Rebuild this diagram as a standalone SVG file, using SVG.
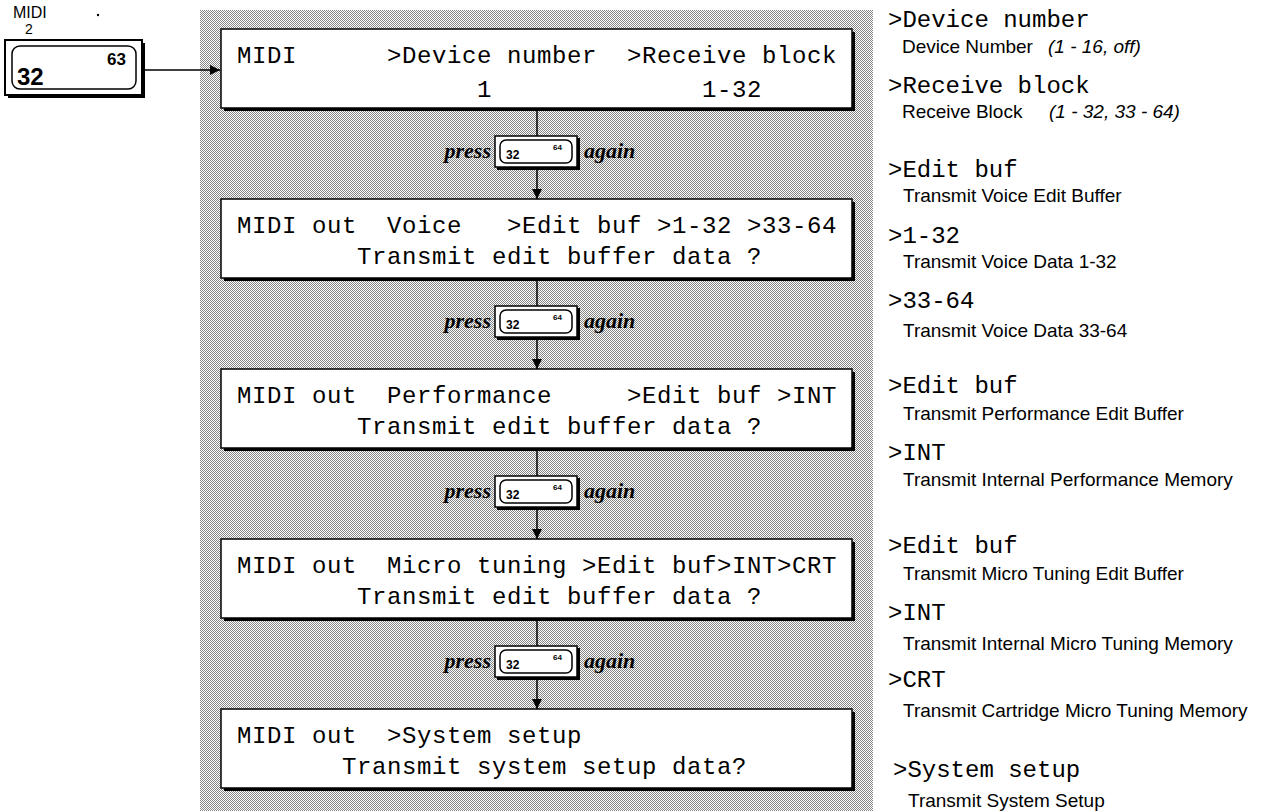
<svg xmlns="http://www.w3.org/2000/svg" width="1271" height="811" viewBox="0 0 1271 811">
<defs>
<pattern id="dots" patternUnits="userSpaceOnUse" width="2" height="2">
<rect width="2" height="2" fill="#ffffff"/>
<rect width="1" height="1" fill="#858585"/>
<rect x="1" y="1" width="1" height="1" fill="#858585"/>
</pattern>
<marker id="arr" markerUnits="userSpaceOnUse" markerWidth="10" markerHeight="12" refX="10" refY="5" orient="auto">
<path d="M0,0 L10,5 L0,10 Z" fill="#000"/>
</marker>
<g id="pbtn">
<rect x="2" y="2" width="83" height="32" fill="#000"/>
<rect x="0" y="0" width="82" height="31" fill="#fff" stroke="#000" stroke-width="1.5"/>
<rect x="5" y="4" width="72" height="23" rx="6" fill="#fff" stroke="#000" stroke-width="1.5"/>
<text x="11" y="23" class="b32">32</text>
<text x="58" y="14" class="b64">64</text>
</g>
</defs>
<style>
.lcd{font-family:"Liberation Mono",monospace;font-size:24px;letter-spacing:0.6px;fill:#000;white-space:pre}
.lcdr{font-family:"Liberation Mono",monospace;font-size:24px;fill:#000;white-space:pre}
.desc{font-family:"Liberation Sans",Arial,sans-serif;font-size:19px;fill:#000}
.ital{font-family:"Liberation Sans",Arial,sans-serif;font-size:19px;font-style:italic;fill:#000}
.press{font-family:"Liberation Serif","Times New Roman",serif;font-size:22px;font-style:italic;font-weight:bold;fill:#000}
.b32{font-family:"Liberation Sans",Arial,sans-serif;font-size:12px;font-weight:bold;fill:#000}
.b64{font-family:"Liberation Sans",Arial,sans-serif;font-size:8px;font-weight:bold;fill:#000}
.box{fill:#fff;stroke:#000;stroke-width:1.5}
.conn{stroke:#000;stroke-width:1.5;fill:none}
</style>

<rect x="200" y="10" width="673" height="801" fill="url(#dots)"/>

<g id="midi-button">
<text x="13" y="18" font-family="Liberation Sans, Arial, sans-serif" font-size="16">MIDI</text>
<text x="25" y="34" font-family="Liberation Sans, Arial, sans-serif" font-size="14">2</text>
<circle cx="98" cy="15" r="1.2" fill="#000"/>
<rect x="8" y="43" width="137" height="55" fill="#000"/>
<rect x="5" y="40" width="137" height="55" fill="#fff" stroke="#000" stroke-width="2"/>
<rect x="12" y="46" width="124" height="43" rx="8" fill="#fff" stroke="#000" stroke-width="1.5"/>
<text x="107" y="65" font-family="Liberation Sans, Arial, sans-serif" font-size="17" font-weight="bold">63</text>
<text x="17" y="85" font-family="Liberation Sans, Arial, sans-serif" font-size="24" font-weight="bold">32</text>
</g>

<g id="connectors">
<line class="conn" x1="145" y1="70" x2="220" y2="70" marker-end="url(#arr)"/>
<line class="conn" x1="537" y1="111" x2="537" y2="136"/>
<line class="conn" x1="537" y1="170" x2="537" y2="199" marker-end="url(#arr)"/>
<line class="conn" x1="537" y1="281" x2="537" y2="306"/>
<line class="conn" x1="537" y1="340" x2="537" y2="369" marker-end="url(#arr)"/>
<line class="conn" x1="537" y1="451" x2="537" y2="476"/>
<line class="conn" x1="537" y1="510" x2="537" y2="539" marker-end="url(#arr)"/>
<line class="conn" x1="537" y1="621" x2="537" y2="646"/>
<line class="conn" x1="537" y1="680" x2="537" y2="709" marker-end="url(#arr)"/>
</g>

<g id="press1">
<text x="491" y="158" class="press" text-anchor="end">press</text>
<use href="#pbtn" x="495" y="136"/>
<text x="584" y="158" class="press">again</text>
</g>
<g id="press2">
<text x="491" y="328" class="press" text-anchor="end">press</text>
<use href="#pbtn" x="495" y="306"/>
<text x="584" y="328" class="press">again</text>
</g>
<g id="press3">
<text x="491" y="498" class="press" text-anchor="end">press</text>
<use href="#pbtn" x="495" y="476"/>
<text x="584" y="498" class="press">again</text>
</g>
<g id="press4">
<text x="491" y="668" class="press" text-anchor="end">press</text>
<use href="#pbtn" x="495" y="646"/>
<text x="584" y="668" class="press">again</text>
</g>

<g id="box1">
<rect x="224" y="32" width="631" height="79" fill="#000"/>
<rect x="221" y="29" width="631" height="79" class="box"/>
<text x="237" y="63" class="lcd">MIDI      &gt;Device number  &gt;Receive block</text>
<text x="237" y="97" class="lcd">                1              1-32</text>
</g>
<g id="box2">
<rect x="224" y="202" width="631" height="79" fill="#000"/>
<rect x="221" y="199" width="631" height="79" class="box"/>
<text x="237" y="233" class="lcd">MIDI out  Voice   &gt;Edit buf &gt;1-32 &gt;33-64</text>
<text x="237" y="264" class="lcd">        Transmit edit buffer data ?</text>
</g>
<g id="box3">
<rect x="224" y="372" width="631" height="79" fill="#000"/>
<rect x="221" y="369" width="631" height="79" class="box"/>
<text x="237" y="403" class="lcd">MIDI out  Performance     &gt;Edit buf &gt;INT</text>
<text x="237" y="434" class="lcd">        Transmit edit buffer data ?</text>
</g>
<g id="box4">
<rect x="224" y="542" width="631" height="79" fill="#000"/>
<rect x="221" y="539" width="631" height="79" class="box"/>
<text x="237" y="573" class="lcd">MIDI out  Micro tuning &gt;Edit buf&gt;INT&gt;CRT</text>
<text x="237" y="604" class="lcd">        Transmit edit buffer data ?</text>
</g>
<g id="box5">
<rect x="224" y="712" width="631" height="79" fill="#000"/>
<rect x="221" y="709" width="631" height="79" class="box"/>
<text x="237" y="743" class="lcd">MIDI out  &gt;System setup</text>
<text x="237" y="774" class="lcd">       Transmit system setup data?</text>
</g>

<g id="legend">
<text x="888" y="27" class="lcdr">&gt;Device number</text>
<text x="902" y="53" class="desc">Device Number</text>
<text x="1048" y="53" class="ital">(1 - 16, off)</text>
<text x="888" y="93" class="lcdr">&gt;Receive block</text>
<text x="902" y="118" class="desc">Receive Block</text>
<text x="1049" y="118" class="ital">(1 - 32, 33 - 64)</text>
<text x="888" y="177" class="lcdr">&gt;Edit buf</text>
<text x="903" y="202" class="desc">Transmit Voice Edit Buffer</text>
<text x="888" y="243" class="lcdr">&gt;1-32</text>
<text x="903" y="268" class="desc">Transmit Voice Data 1-32</text>
<text x="888" y="308" class="lcdr">&gt;33-64</text>
<text x="903" y="337" class="desc">Transmit Voice Data 33-64</text>
<text x="888" y="393" class="lcdr">&gt;Edit buf</text>
<text x="903" y="420" class="desc">Transmit Performance Edit Buffer</text>
<text x="888" y="460" class="lcdr">&gt;INT</text>
<text x="903" y="486" class="desc">Transmit Internal Performance Memory</text>
<text x="888" y="553" class="lcdr">&gt;Edit buf</text>
<text x="903" y="580" class="desc">Transmit Micro Tuning Edit Buffer</text>
<text x="888" y="620" class="lcdr">&gt;INT</text>
<text x="903" y="650" class="desc">Transmit Internal Micro Tuning Memory</text>
<text x="888" y="687" class="lcdr">&gt;CRT</text>
<text x="903" y="717" class="desc">Transmit Cartridge Micro Tuning Memory</text>
<text x="893" y="777" class="lcdr">&gt;System setup</text>
<text x="908" y="807" class="desc">Transmit System Setup</text>
</g>
</svg>
